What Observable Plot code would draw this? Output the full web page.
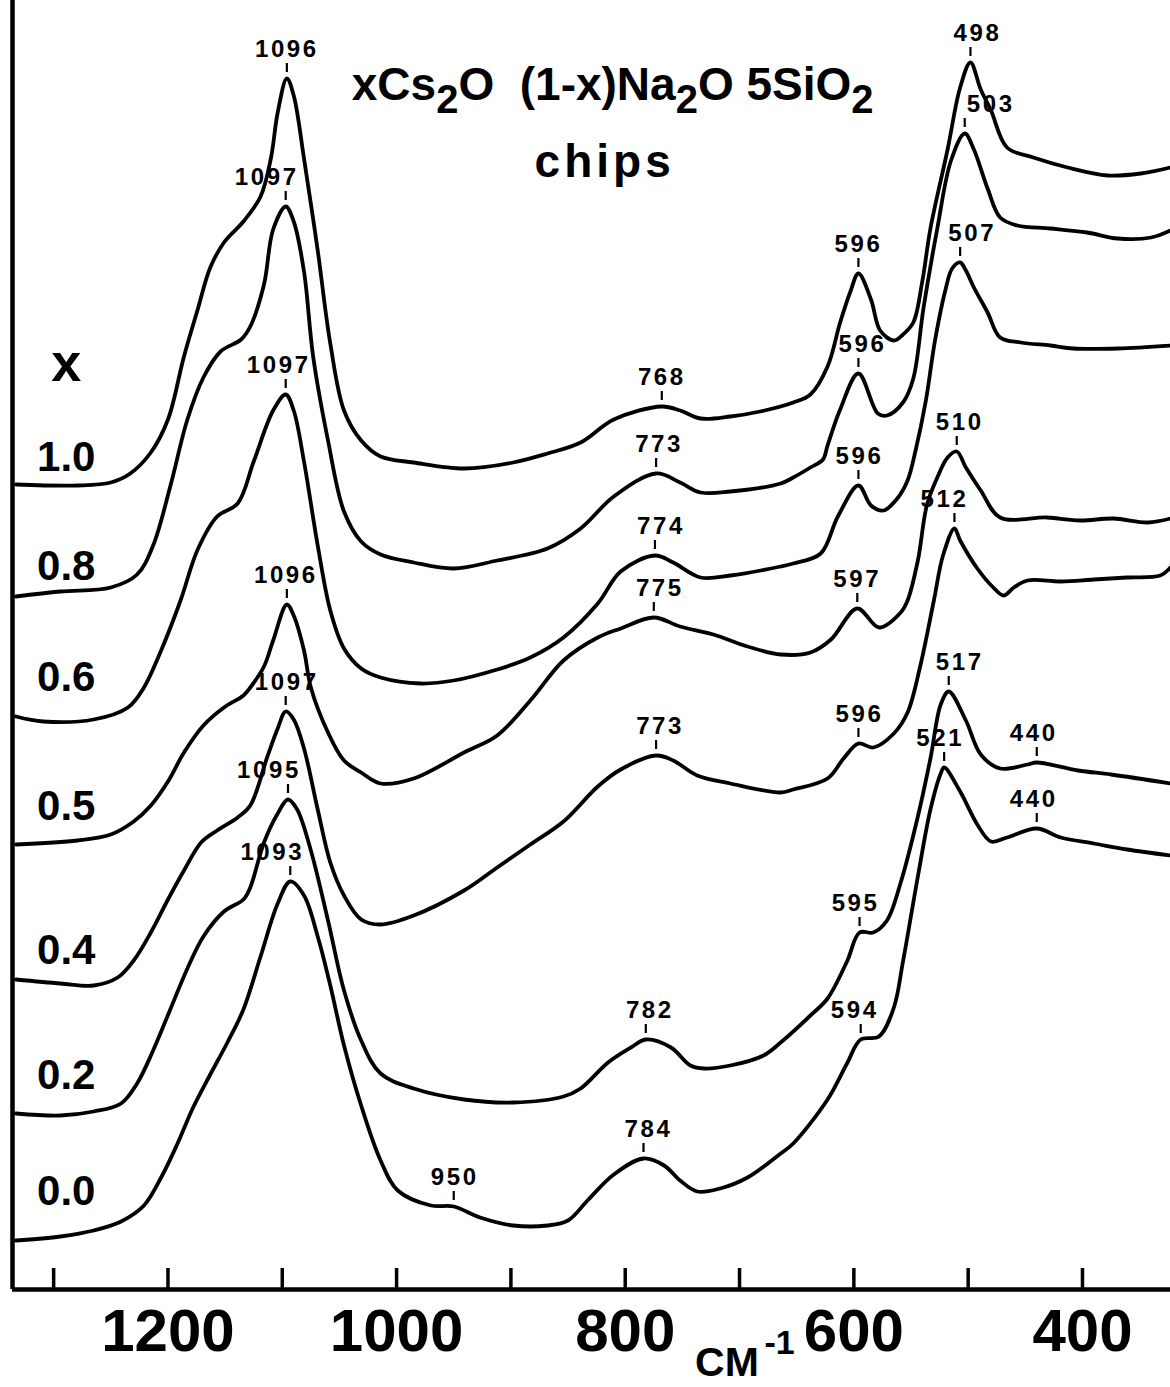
<!DOCTYPE html>
<html>
<head>
<meta charset="utf-8">
<script src="https://cdn.jsdelivr.net/npm/d3@7"></script>
<script src="https://cdn.jsdelivr.net/npm/@observablehq/plot@0.6"></script>
<style>
  html, body { margin: 0; padding: 0; background: #fff; }
  #chart svg { display: block; }
  text[aria-label="peak"] { letter-spacing: 2.6px; }
  text[aria-label="subtitle"] { letter-spacing: 4px; }
</style>
</head>
<body>
<div id="chart"></div>
<script>
// Composition x of xCs2O (1-x)Na2O 5SiO2, top to bottom
const compositions = ["1.0", "0.8", "0.6", "0.5", "0.4", "0.2", "0.0"];

// Raman spectra: [wavenumber cm-1, relative intensity (offset for display)]
const spec10 = [[1333,80.5],[1279,80.4],[1250,80.7],[1233,81.6],[1215,83.7],[1200,87.0],[1186,93.3],[1174,98.0],[1163,102.2],[1151,104.7],[1134,106.8],[1119,109.3],[1110,113.1],[1104,117.7],[1096,121.1],[1090,119.4],[1081,113.1],[1069,103.9],[1058,94.6],[1046,87.9],[1031,84.9],[1014,83.3],[985,82.7],[941,82.1],[898,82.7],[868,83.6],[839,84.7],[810,87.0],[768,88.3],[752,87.9],[734,87.1],[708,87.3],[682,87.8],[653,88.7],[638,89.5],[623,92.3],[612,96.7],[603,99.8],[596,101.6],[585,99.0],[577,95.9],[565,94.9],[557,95.5],[548,96.7],[540,100.9],[533,106.1],[518,114.0],[507,120.2],[498,122.7],[489,120.0],[480,117.9],[466,114.2],[443,113.2],[413,112.2],[378,111.4],[349,111.6],[323,112.2]];
const spec08 = [[1333,69.3],[1294,69.8],[1250,70.2],[1227,71.5],[1213,74.4],[1198,80.3],[1183,87.0],[1169,91.2],[1154,93.8],[1136,95.0],[1128,96.3],[1116,100.5],[1108,106.0],[1097,108.3],[1090,106.8],[1081,101.8],[1073,93.3],[1060,84.9],[1046,77.8],[1031,74.8],[1014,73.5],[985,72.7],[950,72.1],[912,72.9],[868,74.1],[839,76.1],[810,79.3],[773,81.6],[752,80.7],[734,79.7],[708,79.8],[664,80.6],[653,81.2],[638,82.2],[627,83.0],[623,84.4],[612,88.0],[596,91.6],[579,87.6],[571,87.4],[557,88.7],[548,91.1],[539,98.2],[527,106.1],[515,112.9],[503,115.6],[495,114.0],[483,110.1],[472,107.2],[457,106.4],[428,106.1],[396,105.7],[369,105.1],[340,105.2],[323,105.9]];
const spec06 = [[1333,57.3],[1309,56.8],[1265,57.0],[1235,58.2],[1221,60.2],[1206,63.9],[1189,68.9],[1174,74.0],[1157,77.3],[1139,78.6],[1125,82.8],[1108,87.9],[1097,89.5],[1090,87.9],[1081,82.8],[1069,74.4],[1058,67.9],[1046,64.1],[1031,62.1],[1014,61.2],[979,60.6],[950,60.9],[912,62.0],[883,63.2],[854,65.2],[824,68.6],[804,71.8],[774,73.4],[758,72.7],[734,71.2],[708,71.4],[664,72.3],[653,72.6],[629,73.6],[614,77.3],[596,80.4],[585,78.4],[574,77.9],[562,79.1],[553,80.9],[546,83.9],[537,88.9],[529,94.9],[520,99.9],[514,102.1],[507,102.7],[502,101.9],[495,100.2],[483,97.7],[472,95.2],[454,94.7],[428,94.4],[408,94.1],[369,94.1],[323,94.4]];
const spec05 = [[1333,44.5],[1279,44.9],[1250,45.5],[1230,46.8],[1215,48.4],[1200,50.8],[1186,53.7],[1169,56.4],[1151,58.2],[1134,59.4],[1128,60.2],[1116,62.3],[1108,64.9],[1096,68.5],[1090,67.4],[1081,63.9],[1075,60.2],[1060,55.7],[1046,52.9],[1031,51.7],[1014,50.6],[985,51.1],[941,53.7],[912,55.4],[883,58.9],[854,62.9],[824,65.2],[804,66.1],[775,67.2],[752,66.3],[723,65.5],[693,64.3],[664,63.5],[638,63.7],[620,65.0],[597,68.1],[578,66.2],[559,67.7],[553,68.9],[544,72.9],[536,78.5],[527,81.2],[518,83.2],[510,83.8],[502,82.2],[489,79.9],[472,77.2],[431,77.2],[402,76.9],[373,77.1],[343,76.7],[323,77.1]];
const spec04 = [[1333,31.0],[1294,30.6],[1265,30.4],[1244,31.2],[1230,32.9],[1215,35.7],[1200,39.0],[1186,41.9],[1171,44.7],[1157,45.9],[1139,47.2],[1128,48.4],[1113,53.3],[1104,56.1],[1097,57.8],[1090,57.0],[1081,54.1],[1069,48.0],[1058,42.7],[1046,39.4],[1031,37.0],[1014,36.5],[985,37.4],[941,39.9],[912,42.2],[883,44.5],[854,46.8],[824,50.3],[804,52.0],[773,53.4],[758,52.9],[737,51.4],[708,50.6],[664,49.7],[653,50.0],[623,51.1],[609,53.1],[596,54.6],[583,54.2],[565,55.6],[553,57.7],[542,62.3],[530,68.9],[522,73.4],[512,76.1],[507,74.9],[492,72.1],[478,70.2],[469,69.4],[460,70.2],[448,70.9],[419,70.8],[390,71.0],[361,71.2],[332,71.4],[323,72.2]];
const spec02 = [[1333,17.6],[1294,17.4],[1265,17.8],[1241,18.6],[1227,20.6],[1213,23.9],[1198,28.0],[1183,32.1],[1169,35.3],[1151,37.8],[1134,39.0],[1128,40.2],[1116,44.7],[1104,47.6],[1095,49.0],[1087,48.0],[1075,43.9],[1060,36.9],[1046,29.9],[1031,24.9],[1014,21.6],[985,20.1],[941,19.0],[898,18.7],[854,19.3],[839,20.1],[815,22.7],[795,24.2],[782,25.0],[760,24.2],[743,22.4],[731,22.1],[708,22.4],[679,23.4],[664,24.7],[638,27.4],[623,29.1],[606,32.8],[595,35.7],[583,35.7],[571,36.9],[559,40.7],[544,47.3],[533,53.1],[524,58.5],[517,59.8],[502,56.9],[489,53.5],[472,52.1],[448,52.5],[440,52.7],[404,51.9],[375,51.5],[323,50.6]];
const spec00 = [[1333,4.9],[1294,5.3],[1265,5.9],[1241,6.8],[1221,8.4],[1206,11.2],[1192,14.5],[1178,18.2],[1163,21.5],[1148,24.7],[1134,28.0],[1119,33.3],[1104,38.6],[1093,40.8],[1081,39.4],[1069,35.3],[1058,30.4],[1046,24.4],[1031,18.4],[1014,12.9],[999,9.9],[970,8.4],[950,8.3],[927,7.2],[898,6.4],[868,6.4],[850,6.9],[833,8.9],[810,11.5],[784,13.1],[766,12.4],[752,10.9],[737,9.8],[717,10.1],[693,11.2],[664,13.6],[653,14.6],[623,19.0],[606,22.6],[594,25.0],[578,25.3],[565,28.2],[557,32.8],[544,41.3],[533,48.0],[524,51.6],[521,52.2],[507,49.8],[492,46.5],[480,44.8],[466,45.2],[440,46.1],[419,45.2],[390,44.6],[361,44.0],[323,43.4]];

const spectra = {"1.0": spec10, "0.8": spec08, "0.6": spec06, "0.5": spec05, "0.4": spec04, "0.2": spec02, "0.0": spec00};

// Labelled band positions (composition, wavenumber)
const peakLabels = [
  ["1.0",1096],["1.0",768],["1.0",596],["1.0",498],
  ["0.8",1097],["0.8",773],["0.8",596],["0.8",503],
  ["0.6",1097],["0.6",774],["0.6",596],["0.6",507],
  ["0.5",1096],["0.5",775],["0.5",597],["0.5",510],
  ["0.4",1097],["0.4",773],["0.4",596],["0.4",512],
  ["0.2",1095],["0.2",782],["0.2",595],["0.2",517],["0.2",440],
  ["0.0",1093],["0.0",950],["0.0",784],["0.0",594],["0.0",521],["0.0",440]
];
// horizontal nudge of each label text (pixels), same order
const peakLabelShift = [0,0,0,7, -19,3,4,26, -7,6,1,12, -1,6,0,3, 1,4,1,-10, -19,4,-4,11,-3, -18,1,5,-6,-4,-3];

// vertical level of the composition labels (intensity units)
const rowLabelLevel = [83.2, 72.3, 61.2, 48.3, 33.9, 21.4, 9.8];

const tickValues = [1300, 1200, 1100, 1000, 900, 800, 700, 600, 500, 400];
const tickLabels = [1200, 1000, 800, 600, 400];
const xDomain = [1336, 323];
const yDomain = [0, 128.9];

const titleText = "xCs2O  (1-x)Na2O 5SiO2";
const subtitleText = "chips";

// ---- build tables ----
const rows = compositions.flatMap(c => spectra[c].map(([w, v]) => ({comp: c, w, v})));

function valueAt(c, w) {
  const s = spectra[c];
  for (let i = 0; i < s.length - 1; i++) {
    const [w0, v0] = s[i], [w1, v1] = s[i + 1];
    if (w <= w0 && w >= w1) return v0 + (v1 - v0) * (w0 - w) / (w0 - w1);
  }
  return s[s.length - 1][1];
}

const W = 1170, H = 1387, mL = 12, mR = 0, mT = 0, mB = 98;
const pxPerUnitX = (W - mL - mR) / (xDomain[0] - xDomain[1]);

const annotations = peakLabels.map(([c, w], i) => ({
  comp: c, w, v: valueAt(c, w), label: String(w),
  wText: w - peakLabelShift[i] / pxPerUnitX
}));

const font = "'Liberation Sans', Arial, Helvetica, sans-serif";

const svg = Plot.plot({
  width: W, height: H,
  marginLeft: mL, marginRight: mR, marginTop: mT, marginBottom: mB,
  style: {fontFamily: font, background: "#fff", color: "#000", overflow: "visible"},
  x: {domain: xDomain, axis: null},
  y: {domain: yDomain, axis: null},
  marks: [
    Plot.ruleY([0], {stroke: "#000", strokeWidth: 4.5}),
    Plot.ruleX([xDomain[0]], {stroke: "#000", strokeWidth: 4.5}),
    Plot.ruleX(tickValues, {x: d => d, y1: 0, y2: 2.1, stroke: "#000", strokeWidth: 3.5}),
    Plot.axisX({ticks: tickLabels, tickSize: 0, tickPadding: 19, fontSize: 60, fontWeight: "bold",
      tickFormat: d => String(d), fill: "#000"}),
    Plot.line(rows, {x: "w", y: "v", z: "comp", stroke: "#000", strokeWidth: 3.8,
      curve: "catmull-rom", strokeLinejoin: "round", strokeLinecap: "round"}),
    Plot.ruleX(annotations, {x: "w", y1: d => d.v + 0.6, y2: d => d.v + 1.5, stroke: "#000", strokeWidth: 2.2}),
    Plot.text(annotations, {x: "wText", y: d => d.v + 2.9, text: "label", fontSize: 24, fontWeight: "bold",
      fill: "#000", ariaLabel: () => "peak"}),
    Plot.text(compositions, {x: 1289, y: (d, i) => rowLabelLevel[i], text: d => d, fontSize: 42,
      fontWeight: "bold", fill: "#000"}),
    Plot.text(["x"], {x: 1289, y: 92.6, text: d => d, fontSize: 54, fontWeight: "bold", fill: "#000"}),
    Plot.text([titleText], {x: 811, y: 120.4, text: d => d, fontSize: 46, fontWeight: "bold",
      fill: "#000", ariaLabel: () => "title"}),
    Plot.text([subtitleText], {x: 818, y: 112.7, text: d => d, fontSize: 46, fontWeight: "bold",
      fill: "#000", ariaLabel: () => "subtitle"}),
    Plot.text(["CM"], {x: 711, y: -7.3, text: d => d, fontSize: 41, fontWeight: "bold", fill: "#000"}),
    Plot.text(["-1"], {x: 665, y: -5.4, text: d => d, fontSize: 34, fontWeight: "bold", fill: "#000"})
  ]
});

// subscripts in the formula title
const t = svg.querySelector('text[aria-label="title"]');
if (t) {
  const parts = [["xCs", false], ["2", true], ["O\u00a0\u00a0(1-x)Na", false], ["2", true], ["O 5SiO", false], ["2", true]];
  while (t.firstChild) t.removeChild(t.firstChild);
  let prevSub = false;
  for (const [s, sub] of parts) {
    const ts = document.createElementNS("http://www.w3.org/2000/svg", "tspan");
    ts.textContent = s;
    if (sub) { ts.setAttribute("font-size", "40"); ts.setAttribute("dy", "13"); }
    else if (prevSub) { ts.setAttribute("dy", "-13"); }
    prevSub = sub;
    t.appendChild(ts);
  }
}

document.getElementById("chart").appendChild(svg);
</script>
</body>
</html>
